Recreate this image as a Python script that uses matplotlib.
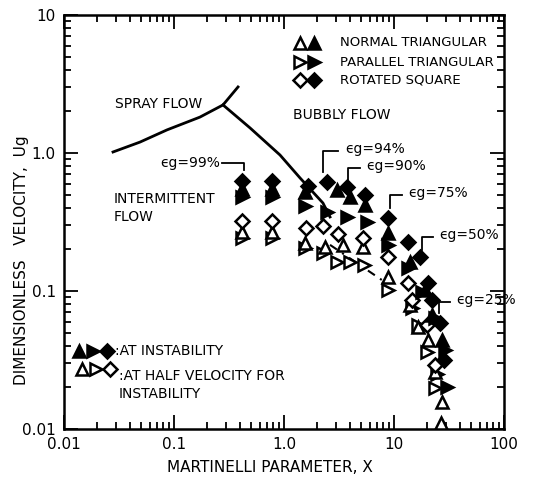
import matplotlib
matplotlib.use("Agg")
import matplotlib.pyplot as plt
from matplotlib.ticker import LogLocator, NullFormatter

plt.rcParams['font.family'] = ['DejaVu Sans']

# filled symbols: at instability
x_tri_f = [0.415, 0.778, 1.55, 3.03, 3.98, 5.45, 8.82, 14.0, 19.1, 22.2, 27.3]
u_tri_f = [0.549, 0.549, 0.522, 0.540, 0.480, 0.420, 0.263, 0.162, 0.102, 0.067, 0.0442]

x_par_f = [0.415, 0.778, 1.55, 2.46, 3.74, 5.69, 8.82, 13.4, 18.0, 23.6, 29.1, 30.3]
u_par_f = [0.480, 0.480, 0.413, 0.374, 0.344, 0.316, 0.216, 0.146, 0.0984, 0.0637, 0.0374, 0.0202]

x_sq_f = [0.415, 0.778, 1.65, 2.46, 3.74, 5.45, 8.82, 13.4, 17.2, 20.4, 22.2, 26.2, 28.5]
u_sq_f = [0.627, 0.627, 0.577, 0.616, 0.567, 0.496, 0.340, 0.226, 0.176, 0.114, 0.0861, 0.0586, 0.0316]

# open symbols: at half velocity for instability
x_tri_o = [0.415, 0.778, 1.55, 2.36, 3.44, 5.23, 8.82, 14.0, 16.5, 20.4, 23.6, 27.3, 26.9]
u_tri_o = [0.268, 0.268, 0.223, 0.208, 0.216, 0.208, 0.126, 0.0792, 0.0552, 0.0442, 0.0259, 0.0158, 0.0110]

x_par_o = [0.415, 0.778, 1.55, 2.26, 3.03, 3.98, 5.34, 8.82, 14.6, 16.5, 19.8, 24.6, 23.6]
u_par_o = [0.242, 0.242, 0.205, 0.188, 0.162, 0.162, 0.154, 0.102, 0.0753, 0.0567, 0.0362, 0.0252, 0.0198]

x_sq_o = [0.415, 0.778, 1.59, 2.26, 3.11, 5.23, 8.82, 13.4, 14.6, 19.8, 23.6]
u_sq_o = [0.321, 0.321, 0.286, 0.296, 0.259, 0.242, 0.176, 0.114, 0.0861, 0.0567, 0.0291]

# flow regime boundaries
x_spray = [0.0279, 0.0491, 0.0863, 0.172, 0.279, 0.382]
u_spray = [1.017, 1.20, 1.47, 1.82, 2.23, 3.01]
x_bubbly = [0.279, 0.491, 0.92, 1.40, 2.26, 2.62]
u_bubbly = [2.23, 1.52, 0.967, 0.659, 0.434, 0.344]
x_dash = [2.62, 8.28]
u_dash = [0.216, 0.116]

# void fraction callouts: leader foot (x, u), leader top u, leader end x
eg_labels = ["\u03f5g=99%", "\u03f5g=94%", "\u03f5g=90%", "\u03f5g=75%", "\u03f5g=50%", "\u03f5g=25%"]
eg_x = [0.433, 2.26, 3.82, 9.2, 18.0, 25.6]
eg_foot = [0.753, 0.728, 0.606, 0.399, 0.198, 0.0693]
eg_top = [0.846, 1.034, 0.778, 0.497, 0.246, 0.0832]
eg_end = [0.273, 3.11, 4.91, 11.8, 22.6, 32.3]

fig = plt.figure(figsize=(5.49, 4.82), dpi=100)
ax = fig.add_axes([64 / 549, 53 / 482, 440 / 549, 414 / 482])
ax.set_xscale('log')
ax.set_yscale('log')
ax.set_xlim(0.01, 100)
ax.set_ylim(0.01, 10)

ax.plot(x_spray, u_spray, color='black', lw=2)
ax.plot(x_bubbly, u_bubbly, color='black', lw=2)
ax.plot(x_dash, u_dash, color='black', lw=1.5, ls=(0, (4, 3, 1, 3)))

ms = dict(ls='none', mec='black', mew=1.8)
TRI, DIA = 8, 6.8
ax.plot(x_par_o, u_par_o, marker='>', ms=TRI, mfc='white', zorder=3, **ms)
ax.plot(x_tri_o, u_tri_o, marker='^', ms=TRI, mfc='white', zorder=3, **ms)
ax.plot(x_sq_o, u_sq_o, marker='D', ms=DIA, mfc='white', zorder=3, **ms)
ax.plot(x_par_f, u_par_f, marker='>', ms=TRI, mfc='black', zorder=4, **ms)
ax.plot(x_tri_f, u_tri_f, marker='^', ms=TRI, mfc='black', zorder=4, **ms)
ax.plot(x_sq_f, u_sq_f, marker='D', ms=DIA, mfc='black', zorder=4, **ms)

fs = 10
for lab, xv, u0, u1, xe in zip(eg_labels, eg_x, eg_foot, eg_top, eg_end):
    ax.plot([xv, xv, xe], [u0, u1, u1], color='black', lw=1.3)
    if xe < xv:
        ax.text(xe / 1.05, u1, lab, ha='right', va='center', fontsize=fs)
    else:
        ax.text(xe * 1.15, u1 * 1.04, lab, ha='left', va='center', fontsize=fs)

ax.text(0.029, 2.25, "SPRAY FLOW", fontsize=fs, va='center')
ax.text(1.22, 1.90, "BUBBLY FLOW", fontsize=fs, va='center')
ax.text(0.028, 0.40, "INTERMITTENT\nFLOW", fontsize=fs, va='center', linespacing=1.35)

# symbol key, upper right
key_labels = ["NORMAL TRIANGULAR", "PARALLEL TRIANGULAR", "ROTATED SQUARE"]
key_marks = ['^', '>', 'D']
key_y = [6.27, 4.56, 3.38]
for lab, mk, yv in zip(key_labels, key_marks, key_y):
    size = DIA if mk == 'D' else TRI
    ax.plot([1.40], [yv], marker=mk, ms=size, mfc='white', **ms)
    ax.plot([1.87], [yv], marker=mk, ms=size, mfc='black', **ms)
    ax.text(3.23, yv, lab, fontsize=9.5, va='center')

# symbol key, lower left
for xv, mk in zip([0.0138, 0.0185, 0.0245], key_marks):
    size = DIA if mk == 'D' else TRI
    ax.plot([xv], [0.0367], marker=mk, ms=size, mfc='black', **ms)
for xv, mk in zip([0.0145, 0.0195, 0.026], key_marks):
    size = DIA if mk == 'D' else TRI
    ax.plot([xv], [0.0272], marker=mk, ms=size, mfc='white', **ms)
ax.text(0.0292, 0.0367, ":AT INSTABILITY", fontsize=fs, va='center')
ax.text(0.0315, 0.0272, ":AT HALF VELOCITY FOR\nINSTABILITY", fontsize=fs, va='top',
        linespacing=1.35)

ax.set_xticks([0.01, 0.1, 1, 10, 100])
ax.set_xticklabels(["0.01", "0.1", "1.0", "10", "100"])
ax.set_yticks([0.01, 0.1, 1, 10])
ax.set_yticklabels(["0.01", "0.1", "1.0", "10"])
for axis in (ax.xaxis, ax.yaxis):
    axis.set_minor_locator(LogLocator(base=10, subs=range(2, 10)))
    axis.set_minor_formatter(NullFormatter())
ax.tick_params(which='both', direction='in', top=True, right=True, width=1.3,
               labelsize=11, pad=6)
ax.tick_params(which='major', length=10)
ax.tick_params(which='minor', length=5)
for sp in ax.spines.values():
    sp.set_linewidth(1.8)

fig.text(270 / 549, 1 - 468 / 482, "MARTINELLI PARAMETER, X", fontsize=11,
         ha='center', va='center')
fig.text(22 / 549, 1 - 260 / 482, "DIMENSIONLESS   VELOCITY,  Ug", fontsize=11,
         ha='center', va='center', rotation=90)

fig.savefig("out.png", dpi=100)
